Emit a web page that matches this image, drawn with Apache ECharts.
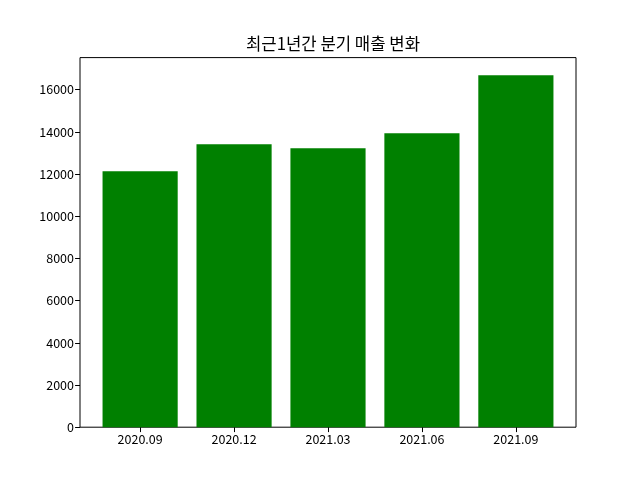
<!DOCTYPE html>
<html>
<head>
<meta charset="utf-8">
<script src="https://cdn.jsdelivr.net/npm/echarts@6/dist/echarts.min.js"></script>
<style>html,body{margin:0;padding:0;background:#fff}#c{width:640px;height:480px}</style>
</head>
<body>
<div id="c"></div>
<script>
const categories = ['2020.09', '2020.12', '2021.03', '2021.06', '2021.09'];
const sales = [12130, 13410, 13220, 13930, 16680];
const yTicks = [0, 2000, 4000, 6000, 8000, 10000, 12000, 14000, 16000];
const titleText = '최근1년간 분기 매출 변화';

const font = '"Noto Sans CJK KR", "DejaVu Sans", sans-serif';
const gridLeft = 80, gridRight = 64, gridTop = 57.6, gridBottom = 52.8;
const xMin = -0.64, xMax = categories.length - 1 + 0.64;
const plotW = 640 - gridLeft - gridRight;
const barW = 0.8 * plotW / (xMax - xMin);
const yMax = Math.max(...sales) * 1.05;
const xIdx = categories.map((c, i) => i);

const chart = echarts.init(document.getElementById('c'));
chart.setOption({
  animation: false,
  backgroundColor: '#fff',
  title: {
    text: titleText, left: gridLeft + plotW / 2, top: 30, textAlign: 'center',
    textStyle: { fontFamily: font, fontSize: 16.7, fontWeight: 'normal', color: '#000' }
  },
  grid: { left: gridLeft, right: gridRight, top: gridTop, bottom: gridBottom,
          show: true, borderColor: '#000', borderWidth: 1, backgroundColor: 'transparent' },
  xAxis: {
    type: 'value', min: xMin, max: xMax, position: 'bottom',
    axisLine: { show: false, onZero: false }, splitLine: { show: false },
    axisTick: { show: true, length: 4.9, inside: false, customValues: xIdx, lineStyle: { color: '#000' } },
    axisLabel: { customValues: xIdx, margin: 6, color: '#000', fontFamily: font, fontSize: 12.5,
                 formatter: v => categories[Math.round(v)] ?? '' }
  },
  yAxis: {
    type: 'value', min: 0, max: yMax, position: 'left',
    axisLine: { show: false, onZero: false }, splitLine: { show: false },
    axisTick: { show: true, length: 4.9, customValues: yTicks, lineStyle: { color: '#000' } },
    axisLabel: { customValues: yTicks, margin: 6, color: '#000', fontFamily: font, fontSize: 12.5,
                 formatter: v => String(v) }
  },
  series: [{
    type: 'bar', barWidth: barW,
    data: sales.map((v, i) => [i, v]),
    itemStyle: { color: '#008000' }
  }]
});
</script>
</body>
</html>
